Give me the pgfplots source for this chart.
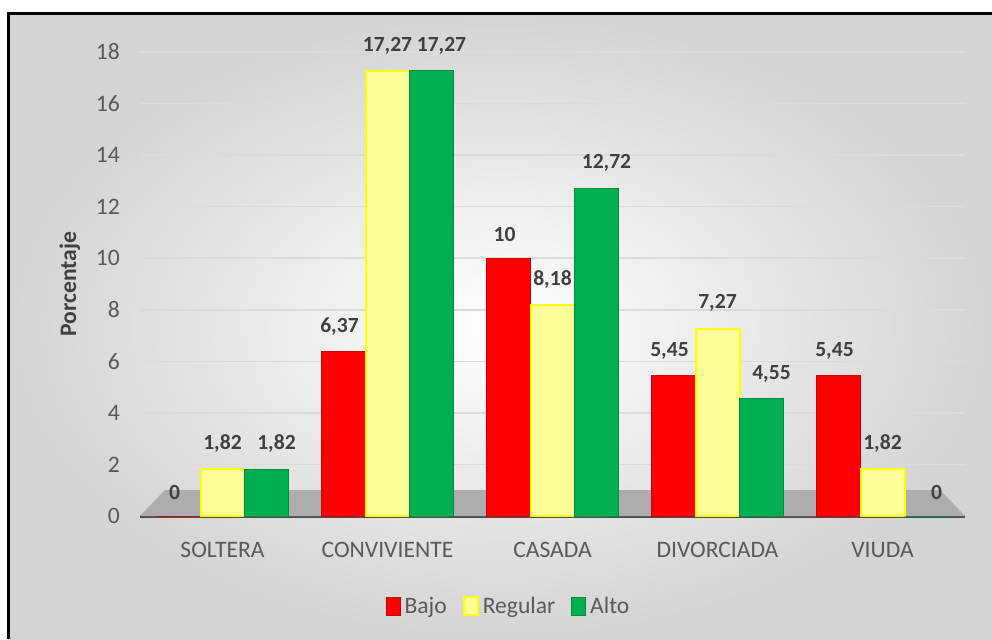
\documentclass[border=0pt]{standalone}
\usepackage{pgfplots}
\pgfplotsset{compat=1.18}
\usepackage{fontspec}
\setmainfont{Carlito}

\definecolor{bajo}{HTML}{FF0000}
\definecolor{regfill}{HTML}{FFFF99}
\definecolor{regdraw}{HTML}{FFFF00}
\definecolor{alto}{HTML}{00B050}
\definecolor{ticktxt}{HTML}{595959}
\definecolor{lbltxt}{HTML}{404040}

\begin{document}
\fontsize{11.8}{13}\selectfont
\begin{tikzpicture}
	\useasboundingbox (0,0) rectangle (496pt,319.5pt);
	\shade[inner color=white, outer color=black!17] (4pt,0) rectangle (496pt,312.5pt);
	\draw[black, line width=1.5pt] (4pt,0) -- (4pt,312.5pt) -- (496pt,312.5pt);
	\begin{axis}[
			at={(70pt,61.5pt)},
			anchor=south west,
			scale only axis,
			width=412.5pt,
			height=232pt,
			ybar=0pt,
			bar width=22pt,
			xmin=-0.5, xmax=4.5,
			ymin=0, ymax=18,
			ytick={0,2,...,18},
			xtick=data,
			xticklabels={SOLTERA, CONVIVIENTE, CASADA, DIVORCIADA, VIUDA},
			x tick label style={text=ticktxt, yshift=-9pt},
			y tick label style={text=ticktxt, xshift=-6pt},
			/pgf/number format/assume math mode=true,
			axis x line=bottom,
			axis y line=left,
			y axis line style={draw=none},
			x axis line style={draw=black!70, line width=1.5pt, -},
			major tick length=0pt,
			ymajorgrids=true,
			grid style={black!14, line width=0.8pt},
			ylabel={\textbf{Porcentaje}},
			ylabel style={at={(axis description cs:-0.085,0.5)}, anchor=center, text=lbltxt},
			nodes near coords,
			every node near coord/.append style={font=\fontsize{10.8}{12}\selectfont\bfseries,
				text=lbltxt, yshift=4pt,
				/pgf/number format/fixed, /pgf/number format/precision=2,
				/pgf/number format/use comma, /pgf/number format/assume math mode=true},
			legend style={at={(axis description cs:0.448,-0.196)}, anchor=center,
				draw=none, fill=none, legend columns=-1,
				/tikz/every even column/.append style={column sep=6pt}, text=ticktxt},
			legend image code/.code={\draw[#1] (0pt,-4pt) rectangle (7pt,5pt);},
		]
		\fill[black!32] (axis cs:-0.5,0) -- (axis cs:-0.35,1) -- (axis cs:4.35,1) -- (axis cs:4.5,0) -- cycle;
		\addplot[fill=bajo, draw=bajo!80!black,
			every node near coord/.append style={xshift=-2pt}] coordinates {
				(0,0) (1,6.37) (2,10) (3,5.45) (4,5.45)
			};
		\addplot[fill=regfill, draw=regdraw, line width=1pt] coordinates {
				(0,1.82) (1,17.27) (2,8.18) (3,7.27) (4,1.82)
			};
		\addplot[fill=alto, draw=alto!80!black,
			every node near coord/.append style={xshift=5pt}] coordinates {
				(0,1.82) (1,17.27) (2,12.72) (3,4.55) (4,0)
			};
		\legend{Bajo, Regular, Alto}
	\end{axis}
\end{tikzpicture}
\end{document}
